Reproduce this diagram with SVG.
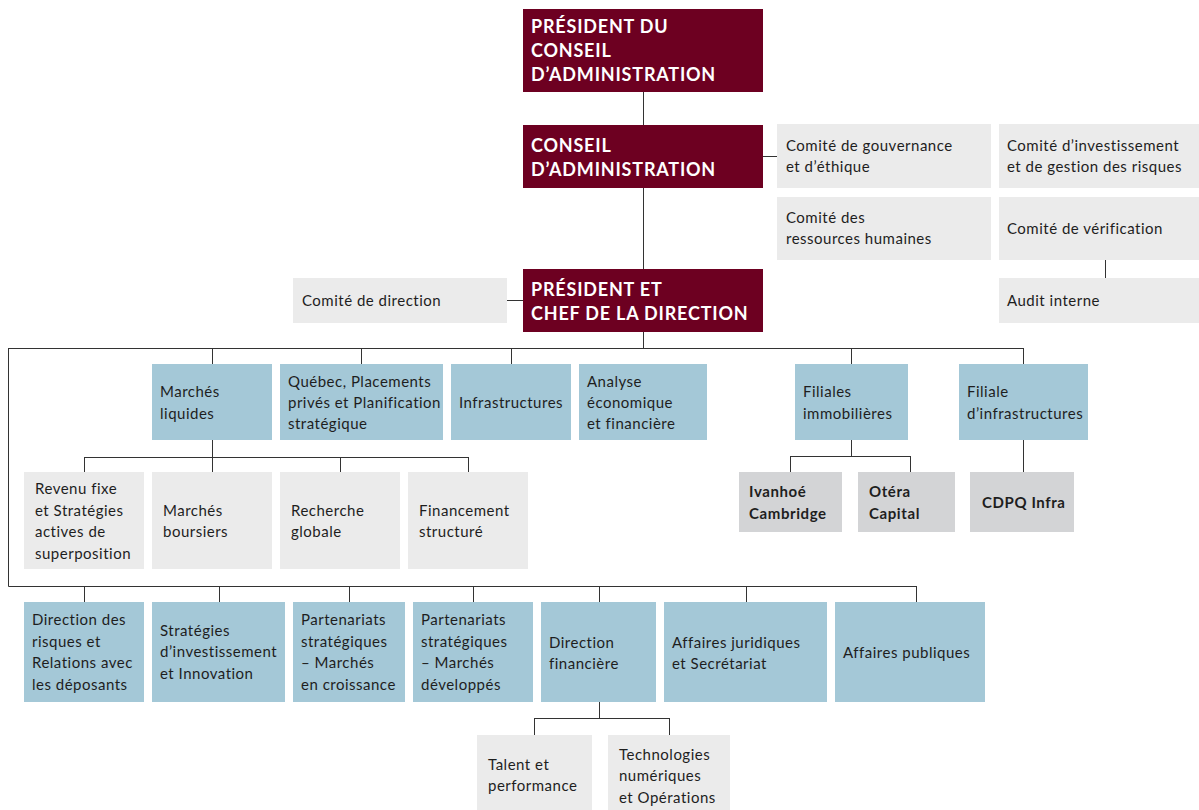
<svg xmlns="http://www.w3.org/2000/svg" width="1199" height="810" viewBox="0 0 1199 810">
<style>
.bg{fill:#ffffff}
.h{fill:#6d0021}
.b{fill:#a4c8d7}
.g{fill:#ebebeb}
.d{fill:#d3d4d6}
.ht{font-family:Lato,"Noto Sans",sans-serif;font-weight:bold;font-size:18px;letter-spacing:0.8px;fill:#ffffff}
.t{font-family:Lato,"Noto Sans",sans-serif;font-size:15px;letter-spacing:0.5px;fill:#1e1e1e}
.tb{font-family:Lato,"Noto Sans",sans-serif;font-weight:bold;font-size:15px;letter-spacing:0.6px;fill:#1e1e1e}
.c{stroke:#333333;stroke-width:1;fill:none}
</style>
<rect class="bg" x="0" y="0" width="1199" height="810"/>
<g id="connectors">
<path class="c" d="M643.5,92V125M643.5,188V269M643.5,332V348M763,156.5H777M507,300.5H523M1105.5,260V278"/>
<path class="c" d="M8.5,348.5H1023.5M212.5,348V364M361.5,348V364M511.5,348V364M851.5,348V364M1023.5,348V364"/>
<path class="c" d="M8.5,348V586.5H916.5M84.5,586V602M219.5,586V602M349.5,586V602M473.5,586V602M599.5,586V602M746.5,586V602M916.5,586V602"/>
<path class="c" d="M212.5,440V457M84.5,457.5H468.5M84.5,457V472M212.5,457V472M340.5,457V472M468.5,457V472"/>
<path class="c" d="M851.5,440V456M790.5,456.5H910.5M790.5,456V472M910.5,456V472M1023.5,440V472"/>
<path class="c" d="M599.5,702V718M534.5,718.5H669.5M534.5,718V735M669.5,718V735"/>
</g>
<g id="pca"><rect class="h" x="523" y="9" width="240" height="83"/><text class="ht" x="531" y="33">PRÉSIDENT DU</text><text class="ht" x="531" y="57">CONSEIL</text><text class="ht" x="531" y="81">D’ADMINISTRATION</text></g>
<g id="ca"><rect class="h" x="523" y="125" width="240" height="63"/><text class="ht" x="531" y="152">CONSEIL</text><text class="ht" x="531" y="176">D’ADMINISTRATION</text></g>
<g id="pdg"><rect class="h" x="523" y="269" width="240" height="63"/><text class="ht" x="531" y="296">PRÉSIDENT ET</text><text class="ht" x="531" y="320">CHEF DE LA DIRECTION</text></g>
<g id="cdir"><rect class="g" x="293" y="278" width="214" height="45"/><text class="t" x="302" y="306">Comité de direction</text></g>
<g id="cgov"><rect class="g" x="777" y="124" width="214" height="64"/><text class="t" x="786" y="151">Comité de gouvernance</text><text class="t" x="786" y="172">et d’éthique</text></g>
<g id="crh"><rect class="g" x="777" y="197" width="214" height="63"/><text class="t" x="786" y="223">Comité des</text><text class="t" x="786" y="244">ressources humaines</text></g>
<g id="cinv"><rect class="g" x="999" y="124" width="200" height="64"/><text class="t" x="1007" y="151">Comité d’investissement</text><text class="t" x="1007" y="172">et de gestion des risques</text></g>
<g id="cver"><rect class="g" x="999" y="197" width="200" height="63"/><text class="t" x="1007" y="234">Comité de vérification</text></g>
<g id="audit"><rect class="g" x="999" y="278" width="200" height="45"/><text class="t" x="1007" y="306">Audit interne</text></g>
<g id="ml"><rect class="b" x="152" y="364" width="120" height="76"/><text class="t" x="160" y="397">Marchés</text><text class="t" x="160" y="419">liquides</text></g>
<g id="qpp"><rect class="b" x="280" y="364" width="163" height="76"/><text class="t" x="288" y="387">Québec, Placements</text><text class="t" x="288" y="408">privés et Planification</text><text class="t" x="288" y="429">stratégique</text></g>
<g id="infra"><rect class="b" x="451" y="364" width="120" height="76"/><text class="t" x="459" y="408">Infrastructures</text></g>
<g id="aef"><rect class="b" x="579" y="364" width="128" height="76"/><text class="t" x="587" y="387">Analyse</text><text class="t" x="587" y="408">économique</text><text class="t" x="587" y="429">et financière</text></g>
<g id="fimmo"><rect class="b" x="795" y="364" width="113" height="76"/><text class="t" x="803" y="397">Filiales</text><text class="t" x="803" y="419">immobilières</text></g>
<g id="finfra"><rect class="b" x="959" y="364" width="129" height="76"/><text class="t" x="967" y="397">Filiale</text><text class="t" x="967" y="419">d’infrastructures</text></g>
<g id="rf"><rect class="g" x="24" y="472" width="120" height="97"/><text class="t" x="35" y="494">Revenu fixe</text><text class="t" x="35" y="516">et Stratégies</text><text class="t" x="35" y="537">actives de</text><text class="t" x="35" y="559">superposition</text></g>
<g id="mb"><rect class="g" x="152" y="472" width="120" height="97"/><text class="t" x="163" y="516">Marchés</text><text class="t" x="163" y="537">boursiers</text></g>
<g id="rg"><rect class="g" x="280" y="472" width="120" height="97"/><text class="t" x="291" y="516">Recherche</text><text class="t" x="291" y="537">globale</text></g>
<g id="fs"><rect class="g" x="408" y="472" width="120" height="97"/><text class="t" x="419" y="516">Financement</text><text class="t" x="419" y="537">structuré</text></g>
<g id="ivan"><rect class="d" x="739" y="472" width="103" height="60"/><text class="tb" x="749" y="497">Ivanhoé</text><text class="tb" x="749" y="519">Cambridge</text></g>
<g id="otera"><rect class="d" x="858" y="472" width="97" height="60"/><text class="tb" x="869" y="497">Otéra</text><text class="tb" x="869" y="519">Capital</text></g>
<g id="cdpq"><rect class="d" x="970" y="472" width="104" height="60"/><text class="tb" x="982" y="508">CDPQ Infra</text></g>
<g id="drr"><rect class="b" x="24" y="602" width="120" height="100"/><text class="t" x="32" y="625">Direction des</text><text class="t" x="32" y="647">risques et</text><text class="t" x="32" y="668">Relations avec</text><text class="t" x="32" y="690">les déposants</text></g>
<g id="sii"><rect class="b" x="152" y="602" width="133" height="100"/><text class="t" x="160" y="636">Stratégies</text><text class="t" x="160" y="657">d’investissement</text><text class="t" x="160" y="679">et Innovation</text></g>
<g id="psmc"><rect class="b" x="293" y="602" width="112" height="100"/><text class="t" x="301" y="625">Partenariats</text><text class="t" x="301" y="647">stratégiques</text><text class="t" x="301" y="668">– Marchés</text><text class="t" x="301" y="690">en croissance</text></g>
<g id="psmd"><rect class="b" x="413" y="602" width="120" height="100"/><text class="t" x="421" y="625">Partenariats</text><text class="t" x="421" y="647">stratégiques</text><text class="t" x="421" y="668">– Marchés</text><text class="t" x="421" y="690">développés</text></g>
<g id="df"><rect class="b" x="541" y="602" width="115" height="100"/><text class="t" x="549" y="648">Direction</text><text class="t" x="549" y="669">financière</text></g>
<g id="ajs"><rect class="b" x="664" y="602" width="163" height="100"/><text class="t" x="672" y="648">Affaires juridiques</text><text class="t" x="672" y="669">et Secrétariat</text></g>
<g id="ap"><rect class="b" x="835" y="602" width="150" height="100"/><text class="t" x="843" y="658">Affaires publiques</text></g>
<g id="tp"><rect class="g" x="477" y="735" width="115" height="75"/><text class="t" x="488" y="770">Talent et</text><text class="t" x="488" y="791">performance</text></g>
<g id="tno"><rect class="g" x="608" y="735" width="122" height="75"/><text class="t" x="619" y="760">Technologies</text><text class="t" x="619" y="781">numériques</text><text class="t" x="619" y="803">et Opérations</text></g>
</svg>
